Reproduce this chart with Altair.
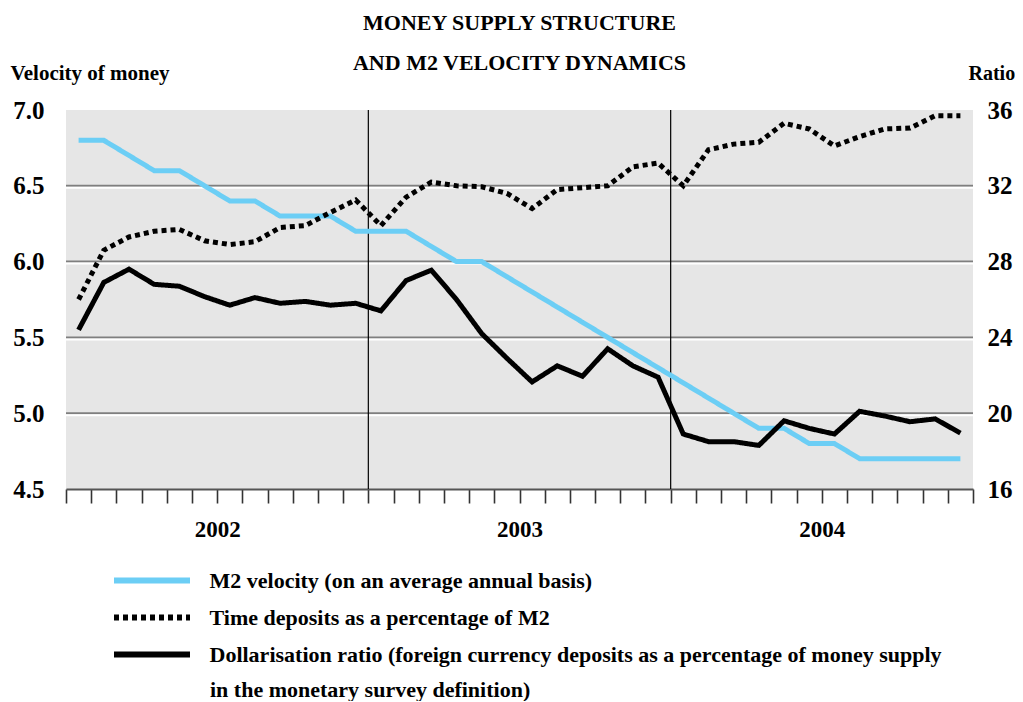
import altair as alt
import pandas as pd

FONT = "Liberation Serif"

# ---- data (monthly, Jan 2002 - Dec 2004) ----
years = ["2002", "2003", "2004"]
velocity = [6.8, 6.8, 6.7, 6.6, 6.6, 6.5, 6.4, 6.4, 6.3, 6.3, 6.3, 6.2,
            6.2, 6.2, 6.1, 6.0, 6.0, 5.9, 5.8, 5.7, 5.6, 5.5, 5.4, 5.3,
            5.2, 5.1, 5.0, 4.9, 4.9, 4.8, 4.8, 4.7, 4.7, 4.7, 4.7, 4.7]
time_deposits = [26.0, 28.6, 29.3, 29.6, 29.7, 29.1, 28.9, 29.05, 29.8, 29.9, 30.6, 31.25,
                 29.9, 31.4, 32.2, 32.0, 31.95, 31.6, 30.8, 31.8, 31.9, 32.0, 33.0, 33.2,
                 32.0, 33.9, 34.2, 34.3, 35.3, 35.0, 34.1, 34.6, 35.0, 35.05, 35.7, 35.7]
dollarisation = [24.4, 26.9, 27.6, 26.8, 26.7, 26.15, 25.7, 26.1, 25.8, 25.9, 25.7, 25.8,
                 25.4, 27.0, 27.55, 26.0, 24.2, 22.9, 21.65, 22.5, 21.95, 23.4, 22.5, 21.9,
                 18.9, 18.5, 18.5, 18.3, 19.6, 19.2, 18.9, 20.1, 19.85, 19.55, 19.7, 18.95]

SER_V = "M2 velocity (on an average annual basis)"
SER_T = "Time deposits as a percentage of M2"
SER_D = "Dollarisation ratio (foreign currency deposits as a percentage of money supply"
SER_D_LINE2 = "in the monetary survey definition)"

left_ticks = [4.5, 5.0, 5.5, 6.0, 6.5, 7.0]
right_ticks = [16, 20, 24, 28, 32, 36]
grid_vals = [5.0, 5.5, 6.0, 6.5]

n = len(velocity)
year_breaks = [12 * k for k in range(1, len(years))]
label_expr = " : ".join(
    [f"datum.value == {12 * k + 6} ? '{y}'" for k, y in enumerate(years)]
) + " : ''"

left_df = pd.DataFrame({"t": [i + 0.5 for i in range(n)], "value": velocity, "series": SER_V})
right_df = pd.concat([
    pd.DataFrame({"t": [i + 0.5 for i in range(n)], "value": time_deposits, "series": SER_T}),
    pd.DataFrame({"t": [i + 0.5 for i in range(n)], "value": dollarisation, "series": SER_D}),
])
grid_df = pd.DataFrame({"value": grid_vals})
breaks_df = pd.DataFrame({"t": year_breaks})
note_df = pd.DataFrame({"txt": [SER_D_LINE2]})

W, H = 907, 379

x_enc = alt.X(
    "t:Q",
    scale=alt.Scale(domain=[0, n], nice=False, zero=False),
    axis=alt.Axis(
        values=list(range(n + 1)), tickSize=14, tickColor="#333333", tickWidth=1.6,
        domainColor="#555555", domainWidth=2, grid=False, labelExpr=label_expr,
        labelOverlap=False, labelPadding=15, labelFont=FONT, labelFontSize=23,
        labelFontWeight="bold", labelColor="black", title=None, labelBound=False,
    ),
)

series_domain = [SER_V, SER_T, SER_D]
# long horizontal line symbol: path spans 8 units, symbol size keeps rows compact
legend = alt.Legend(
    title=None, orient="none", legendX=73.5, legendY=458, symbolType="M-4,0H4",
    symbolSize=361, symbolStrokeWidth=6, labelOffset=45, rowPadding=12,
    labelFont=FONT, labelFontSize=22, labelFontWeight="bold", labelColor="black",
    labelLimit=1000, padding=0,
)
color_enc = alt.Color("series:N", scale=alt.Scale(domain=series_domain,
                      range=["#6ccef5", "black", "black"]), legend=legend)
dash_enc = alt.StrokeDash("series:N", scale=alt.Scale(domain=series_domain,
                          range=[[1, 0], [5, 4], [1, 0]]), legend=legend)

yl_scale = alt.Scale(domain=[4.5, 7.0], nice=False, zero=False)
yl_axis = alt.Axis(
    values=left_ticks, format=".1f", ticks=False, domain=False, grid=False,
    labelPadding=22, labelFont=FONT, labelFontSize=25, labelFontWeight="bold",
    labelColor="black", title="Velocity of money", titleAngle=0, titleAlign="left",
    titleBaseline="middle", titleX=-56, titleY=-37, titleFont=FONT, titleFontSize=21,
    titleFontWeight="bold", titleColor="black",
)
yr_axis = alt.Axis(
    orient="right", values=right_ticks, ticks=False, domain=False, grid=False,
    labelPadding=14, labelFont=FONT, labelFontSize=25, labelFontWeight="bold",
    labelColor="black", title="Ratio", titleAngle=0, titleAlign="left",
    titleBaseline="middle", titleX=-5, titleY=-37, titleFont=FONT, titleFontSize=20,
    titleFontWeight="bold", titleColor="black",
)

grid_dark = alt.Chart(grid_df).mark_rule(color="#7f7f7f", strokeWidth=2).encode(
    y=alt.Y("value:Q", scale=yl_scale, axis=yl_axis)
)
grid_light = alt.Chart(grid_df).mark_rule(color="white", strokeWidth=2, yOffset=2).encode(
    y=alt.Y("value:Q", scale=yl_scale, axis=yl_axis)
)
breaks = alt.Chart(breaks_df).mark_rule(color="black", strokeWidth=1.2).encode(x=x_enc)
blue = alt.Chart(left_df).mark_line(strokeWidth=5, strokeCap="butt").encode(
    x=x_enc, y=alt.Y("value:Q", scale=yl_scale, axis=yl_axis),
    color=color_enc, strokeDash=dash_enc,
)
note = alt.Chart(note_df).mark_text(
    align="left", baseline="middle", font=FONT, fontSize=22, fontWeight="bold", color="black"
).encode(x=alt.value(144), y=alt.value(580), text="txt:N")

left_layer = alt.layer(grid_dark, grid_light, breaks, blue, note)

right_layer = alt.Chart(right_df).mark_line(strokeWidth=5, strokeCap="butt").encode(
    x=x_enc,
    y=alt.Y("value:Q", scale=alt.Scale(domain=[16, 36], nice=False, zero=False), axis=yr_axis),
    color=color_enc, strokeDash=dash_enc,
)

chart = alt.layer(left_layer, right_layer).resolve_scale(y="independent").properties(
    width=W, height=H,
    title=alt.TitleParams(
        ["MONEY SUPPLY STRUCTURE", "AND M2 VELOCITY DYNAMICS"], font=FONT, fontSize=22,
        fontWeight="bold", color="black", lineHeight=40, anchor="middle", offset=10, dy=23,
    ),
    padding={"left": 58, "top": 102, "right": 42, "bottom": 212},
    autosize=alt.AutoSizeParams(type="none"),
).configure_view(fill="#e6e6e6", strokeWidth=0)

chart.save("out.html", embed_options={"renderer": "svg", "actions": False})
